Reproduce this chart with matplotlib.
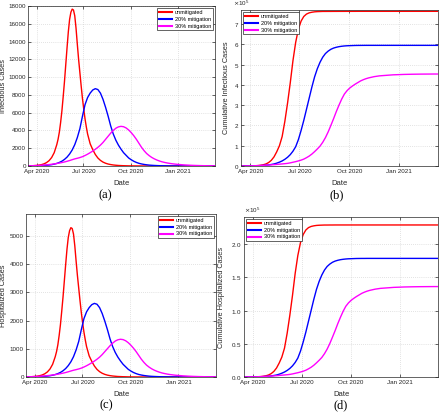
import numpy as np
import pandas as pd
import matplotlib
matplotlib.use("Agg")
import matplotlib.pyplot as plt
import matplotlib.dates as mdates
from matplotlib.ticker import MultipleLocator, ScalarFormatter

plt.rcParams['font.family'] = ['Liberation Sans', 'DejaVu Sans']

# ---------------- data ----------------
start_date = "2020-03-16"
series_names = ["unmitigated", "20% mitigation", "30% mitigation"]
# day offsets from start_date: regular 5-day grid, and a finer grid around the sharp unmitigated peak
days_5 = list(range(0, 370, 5))
days_red = list(range(0, 55, 5)) + [55 + 2.5 * i for i in range(25)] + list(range(120, 370, 5))

# (a) Infectious cases
inf_unmit = [15, 24, 38, 60, 95, 150, 240, 380, 600, 950, 1500,
             2400, 3000, 3800, 4900, 6200, 7800, 9500, 11400, 13300, 15100, 16500, 17300, 17650,
             17550, 16900, 15500, 13700, 12000, 10500, 9000, 7600, 6400, 5300, 4400, 3600,
             2500, 1850, 1300, 900, 630, 440, 310, 220, 160, 115, 85, 60, 45, 33, 25, 18, 14, 10,
             8, 6, 5, 4, 3, 2, 2, 1,
             1, 1, 1, 1, 1, 1, 0, 0, 0, 0, 0, 0, 0, 0, 0, 0, 0, 0, 0, 0, 0, 0, 0, 0]
inf_m20 = [9, 12, 16, 22, 30, 42, 58, 80, 110, 150, 210, 290, 400, 540, 740, 1000, 1350, 1800,
           2400, 3200, 4200, 5600, 6900, 7700, 8200, 8550, 8700, 8600, 8200, 7500, 6600, 5600,
           4500, 3600, 2900, 2350, 1900, 1500, 1200, 900, 700, 530, 400, 300, 230, 175, 135, 100,
           78, 60, 46, 35, 27, 21, 16, 12, 9, 7, 6, 5, 4, 3, 3, 2, 2, 2, 1, 1, 1, 1, 1, 1, 1, 1]
inf_m30 = [20, 28, 38, 50, 65, 85, 105, 130, 160, 195, 235, 280, 330, 390, 455, 530, 615, 710,
           800, 870, 950, 1050, 1180, 1330, 1500, 1680, 1880, 2100, 2350, 2650, 3000, 3350, 3700,
           4000, 4250, 4400, 4460, 4420, 4280, 4050, 3750, 3400, 3000, 2550, 2100, 1720, 1400,
           1160, 960, 800, 670, 560, 470, 400, 340, 290, 250, 215, 185, 160, 135, 115, 98, 83,
           70, 60, 51, 43, 37, 31, 26, 22, 19, 16]

# (b) Cumulative infectious cases
cinf_unmit = [0, 100, 200, 400, 700, 1200, 2000, 3500, 6000, 10000, 17000, 28000, 45000, 70000,
              100000, 145000, 220000, 310000, 410000, 520000, 610000, 675000, 715000, 738000,
              750000, 756000, 759000, 761000, 762000, 762500, 763000, 763000, 763100, 763100,
              763200, 763200, 763300, 763300, 763300, 763400, 763400, 763400, 763400, 763500,
              763500, 763500, 763500, 763500, 763500, 763500, 763500, 763500, 763500, 763500,
              763500, 763500, 763500, 763500, 763500, 763500, 763500, 763500, 763500, 763500,
              763500, 763500, 763500, 763500, 763500, 763500, 763500, 763500, 763500, 763500]
cinf_m20 = [0, 100, 200, 400, 600, 900, 1300, 1900, 2700, 3800, 5400, 7500, 10000, 14000, 19000,
            25000, 33000, 43000, 56000, 73000, 95000, 130000, 175000, 225000, 280000, 335000,
            390000, 440000, 480000, 512000, 537000, 555000, 567000, 576000, 582000, 586000,
            589000, 591000, 592500, 593500, 594000, 594500, 595000, 595200, 595300, 595400,
            595500, 595500, 595500, 595500, 595500, 595500, 595500, 595500, 595500, 595500,
            595500, 595500, 595500, 595500, 595500, 595500, 595500, 595500, 595500, 595500,
            595500, 595500, 595500, 595500, 595500, 595500, 595500, 595500]
cinf_m30 = [0, 200, 400, 700, 1000, 1400, 1900, 2500, 3200, 4000, 4800, 5700, 6600, 7800, 9000,
            10200, 11500, 13000, 15500, 18500, 21500, 25000, 29000, 34000, 41000, 49000, 59000,
            71000, 84000, 98000, 117000, 140000, 168000, 200000, 233000, 268000, 300000, 330000,
            355000, 372000, 385000, 395000, 404000, 412000, 420000, 426000, 431000, 435000,
            438000, 441000, 443000, 445000, 446000, 447000, 448000, 449000, 450000, 450500,
            451000, 451500, 452000, 452300, 452600, 452900, 453100, 453300, 453500, 453600,
            453700, 453800, 453900, 454000, 454000, 454000]

# (c) Hospitalized cases
hosp_unmit = [5, 7, 11, 18, 28, 45, 72, 114, 180, 285, 450,
              720, 900, 1140, 1470, 1860, 2340, 2850, 3420, 3990, 4530, 4950, 5190, 5295, 5265,
              5070, 4650, 4110, 3600, 3150, 2700, 2280, 1920, 1590, 1320, 1080,
              750, 555, 390, 270, 189, 132, 93, 66, 48, 35, 26, 18, 14, 10, 8, 5, 4, 3, 2, 2, 2,
              1, 1, 1, 1, 0,
              0, 0, 0, 0, 0, 0, 0, 0, 0, 0, 0, 0, 0, 0, 0, 0, 0, 0, 0, 0, 0, 0, 0, 0]
hosp_m20 = [3, 4, 5, 7, 9, 13, 17, 24, 33, 45, 63, 87, 120, 162, 222, 300, 405, 540, 720, 960,
            1260, 1680, 2070, 2310, 2460, 2565, 2610, 2580, 2460, 2250, 1980, 1680, 1350, 1080,
            870, 705, 570, 450, 360, 270, 210, 159, 120, 90, 69, 53, 41, 30, 23, 18, 14, 11, 8,
            6, 5, 4, 3, 2, 2, 2, 1, 1, 1, 1, 1, 1, 0, 0, 0, 0, 0, 0, 0, 0]
hosp_m30 = [6, 8, 11, 15, 20, 26, 32, 39, 48, 59, 71, 84, 99, 117, 137, 159, 185, 213, 240, 261,
            285, 315, 354, 399, 450, 504, 564, 630, 705, 795, 900, 1005, 1110, 1200, 1275, 1320,
            1338, 1326, 1284, 1215, 1125, 1020, 900, 765, 630, 516, 420, 348, 288, 240, 201, 168,
            141, 120, 102, 87, 75, 64, 56, 48, 40, 35, 29, 25, 21, 18, 15, 13, 11, 9, 8, 7, 6, 5]

# (d) Cumulative hospitalized cases
chosp_unmit = [0, 30, 60, 120, 210, 360, 600, 1050, 1800, 3000, 5100, 8400, 13500, 21000, 30000,
               43500, 66000, 93000, 123000, 156000, 183000, 202500, 214500, 221400, 225000,
               226800, 227700, 228300, 228600, 228750, 228900, 228900, 228950, 228950, 229000,
               229000, 229000, 229000, 229000, 229000, 229000, 229000, 229000, 229000, 229000,
               229000, 229000, 229000, 229000, 229000, 229000, 229000, 229000, 229000, 229000,
               229000, 229000, 229000, 229000, 229000, 229000, 229000, 229000, 229000, 229000,
               229000, 229000, 229000, 229000, 229000, 229000, 229000, 229000, 229000]
chosp_m20 = [0, 30, 60, 120, 180, 270, 390, 570, 810, 1140, 1620, 2250, 3000, 4200, 5700, 7500,
             9900, 12900, 16800, 21900, 28500, 39000, 52500, 67500, 84000, 100500, 117000,
             132000, 144000, 153600, 161100, 166500, 170100, 172800, 174600, 175800, 176700,
             177300, 177750, 178050, 178200, 178350, 178500, 178550, 178600, 178600, 178650,
             178650, 178650, 178650, 178650, 178650, 178650, 178650, 178650, 178650, 178650,
             178650, 178650, 178650, 178650, 178650, 178650, 178650, 178650, 178650, 178650,
             178650, 178650, 178650, 178650, 178650, 178650, 178650]
chosp_m30 = [0, 60, 120, 210, 300, 420, 570, 750, 960, 1200, 1440, 1710, 1980, 2340, 2700, 3060,
             3450, 3900, 4650, 5550, 6450, 7500, 8700, 10200, 12300, 14700, 17700, 21300, 25200,
             29400, 35100, 42000, 50400, 60000, 69900, 80400, 90000, 99000, 106500, 111600,
             115500, 118500, 121200, 123600, 126000, 127800, 129300, 130500, 131400, 132300,
             132900, 133500, 133800, 134100, 134400, 134700, 135000, 135150, 135300, 135450,
             135600, 135690, 135780, 135870, 135930, 135990, 136050, 136080, 136110, 136140,
             136170, 136200, 136200, 136200]

xtick_dates = ["2020-04-01", "2020-07-01", "2020-10-01", "2021-01-01"]
x_range = ("2020-03-15", "2021-03-14")

# ---------------- styling ----------------
colors = ["#ff0000", "#0000ff", "#ff00ff"]
W, H = 440, 415
fig = plt.figure(figsize=(W / 100, H / 100), dpi=100)

def rect(l, t, r, b):
    return [l / W, 1 - b / H, (r - l) / W, (b - t) / H]

panels = [
    dict(rect=rect(28, 6, 215, 166), data=[(days_red, inf_unmit), (days_5, inf_m20), (days_5, inf_m30)],
         ylabel="Infectious Cases", ylab_x=-0.112, off_x=None,
         ylim=(0, 18000), ystep=2000, sci=False, legend="upper right", cap="(a)", cap_xy=(105, 195)),
    dict(rect=rect(241, 10, 438, 166), data=[(days_5, cinf_unmit), (days_5, cinf_m20), (days_5, cinf_m30)],
         ylabel="Cumulative Infectious Cases", ylab_x=-0.056, off_x=-0.04,
         ylim=(0, 7.7e5), ystep=1e5, sci=True, legend="upper left", cap="(b)", cap_xy=(337, 195)),
    dict(rect=rect(26, 214, 216, 377), data=[(days_red, hosp_unmit), (days_5, hosp_m20), (days_5, hosp_m30)],
         ylabel="Hospitalized Cases", ylab_x=-0.1, off_x=None,
         ylim=(0, 5780), ystep=1000, sci=False, legend="upper right", cap="(c)", cap_xy=(106, 405)),
    dict(rect=rect(244, 217, 438, 377), data=[(days_5, chosp_unmit), (days_5, chosp_m20), (days_5, chosp_m30)],
         ylabel="Cumulative Hospitalized Cases", ylab_x=-0.098, off_x=0.0,
         ylim=(0, 2.41e5), ystep=0.5e5, sci=True, legend="upper left", cap="(d)", cap_xy=(341, 405)),
]

edge = "#262626"
t0 = pd.Timestamp(start_date)
for p in panels:
    ax = fig.add_axes(p["rect"])
    for (days, vals), c, name in zip(p["data"], colors, series_names):
        n = min(len(days), len(vals))
        dates = t0 + pd.to_timedelta(np.array(days[:n], dtype=float), unit="D")
        ax.plot(dates, vals[:n], color=c, lw=1.0, label=name, solid_joinstyle="round")
    ax.set_xlim(pd.Timestamp(x_range[0]), pd.Timestamp(x_range[1]))
    ax.set_ylim(*p["ylim"])
    ax.set_xticks([pd.Timestamp(d) for d in xtick_dates])
    ax.xaxis.set_major_formatter(mdates.DateFormatter("%b %Y"))
    ax.yaxis.set_major_locator(MultipleLocator(p["ystep"]))
    if p["sci"]:
        fmt = ScalarFormatter(useMathText=True)
        fmt.set_powerlimits((0, 0))
        ax.yaxis.set_major_formatter(fmt)
        ot = ax.yaxis.get_offset_text()
        ot.set_fontsize(4.5)
        ot.set_color(edge)
        ot.set_x(p["off_x"])
    ax.grid(True, ls=(0, (1, 2)), color="#c8c8c8", lw=0.5)
    ax.set_axisbelow(True)
    for s in ax.spines.values():
        s.set_color(edge)
        s.set_linewidth(0.5)
    ax.tick_params(direction="in", length=2, width=0.5, colors=edge, labelsize=4.5,
                   top=True, right=True)
    ax.tick_params(axis="y", pad=1.5)
    ax.tick_params(axis="x", pad=2.5)
    ax.set_xlabel("Date", fontsize=5.5, color=edge, labelpad=4)
    ax.set_ylabel(p["ylabel"], fontsize=5.3, color=edge)
    ax.yaxis.set_label_coords(p["ylab_x"], 0.5)
    leg = ax.legend(loc=p["legend"], fontsize=4, frameon=True, fancybox=False,
                    edgecolor=edge, framealpha=1, borderaxespad=0.3, handlelength=2.4,
                    handletextpad=0.5, labelspacing=0.35, borderpad=0.35)
    leg.get_frame().set_linewidth(0.5)
    for ln in leg.get_lines():
        ln.set_linewidth(1.5)
    fig.text(p["cap_xy"][0] / W, 1 - p["cap_xy"][1] / H, p["cap"], ha="center", va="center",
             fontsize=9, family=["Liberation Serif", "DejaVu Serif"])

fig.savefig("out.png", dpi=100)
